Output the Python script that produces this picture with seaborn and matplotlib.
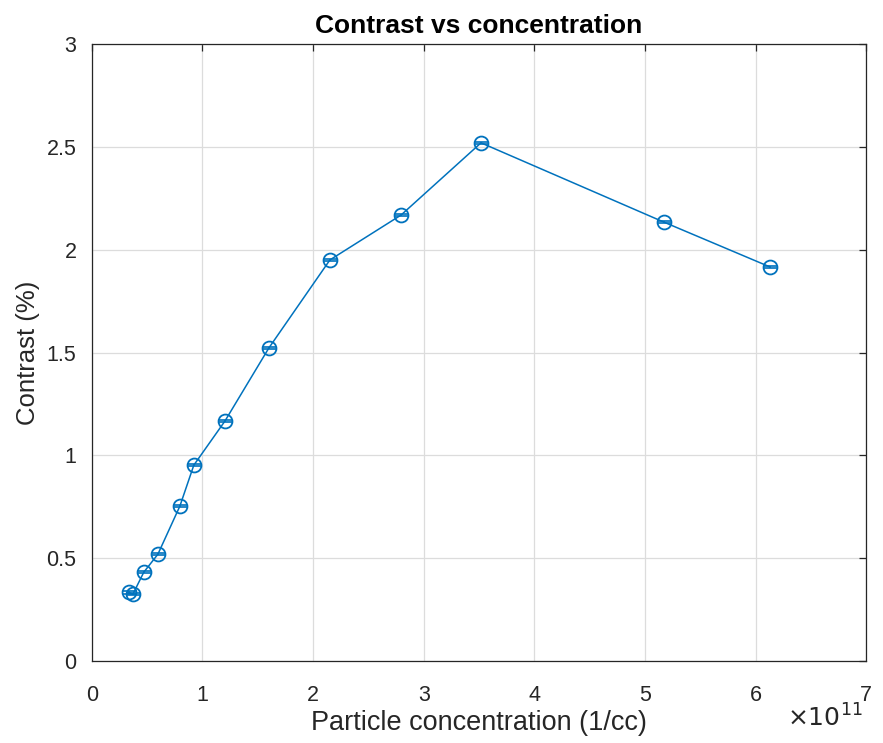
import matplotlib
matplotlib.use("Agg")
import matplotlib.pyplot as plt
import seaborn as sns
import pandas as pd
import numpy as np

conc = [0.335, 0.371, 0.47, 0.597, 0.796, 0.922, 1.203, 1.60, 2.152, 2.795, 3.518, 5.17, 6.13]
contrast = [0.335, 0.326, 0.433, 0.52, 0.754, 0.953, 1.167, 1.522, 1.95, 2.168, 2.519, 2.134, 1.916]
contrast_err = [0.006] * 13

df = pd.DataFrame({"conc": conc, "contrast": contrast})

sns.set_style("white")
plt.rcParams['font.family'] = ['Liberation Sans', 'DejaVu Sans']

fig = plt.figure(figsize=(8.83, 7.43), dpi=100)
ax = fig.add_axes([0.104, 0.110, 0.877, 0.831])
color = '#0072BD'
sns.lineplot(data=df, x="conc", y="contrast", ax=ax, color=color, lw=1.1,
             marker='o', markersize=10, markerfacecolor='none',
             markeredgecolor=color, markeredgewidth=1.3, sort=False)
ax.errorbar(conc, contrast, yerr=contrast_err, fmt='none', ecolor=color,
            elinewidth=1.1, capsize=5, capthick=1.2)

ax.set_xlim(0, 7)
ax.set_ylim(0, 3)
ax.set_xticks(range(0, 8))
ax.set_xticklabels([str(i) for i in range(0, 8)])
ax.set_yticks([0, 0.5, 1, 1.5, 2, 2.5, 3])
ax.set_yticklabels(['0', '0.5', '1', '1.5', '2', '2.5', '3'])
ax.grid(True, color='#dcdcdc', lw=0.9)
ax.set_axisbelow(True)
for s in ax.spines.values():
    s.set_visible(True)
    s.set_color('#262626')
    s.set_linewidth(0.9)
ax.tick_params(direction='in', length=5, width=0.9, colors='#262626', labelsize=15.5,
               top=True, right=True, labelcolor='#262626')
ax.tick_params(axis='x', pad=17)
ax.tick_params(axis='y', pad=11)
ax.set_xlabel('Particle concentration (1/cc)', fontsize=19.5, color='#262626', labelpad=3)
ax.set_ylabel('Contrast (%)', fontsize=18.5, color='#262626', labelpad=5)
ax.set_title('Contrast vs concentration', fontsize=19, fontweight='bold', color='black', pad=8)
ax.text(0.995, -0.07, r'$\times10^{11}$', transform=ax.transAxes,
        ha='right', va='top', fontsize=18, color='#262626')
fig.savefig('out.png', dpi=100)
